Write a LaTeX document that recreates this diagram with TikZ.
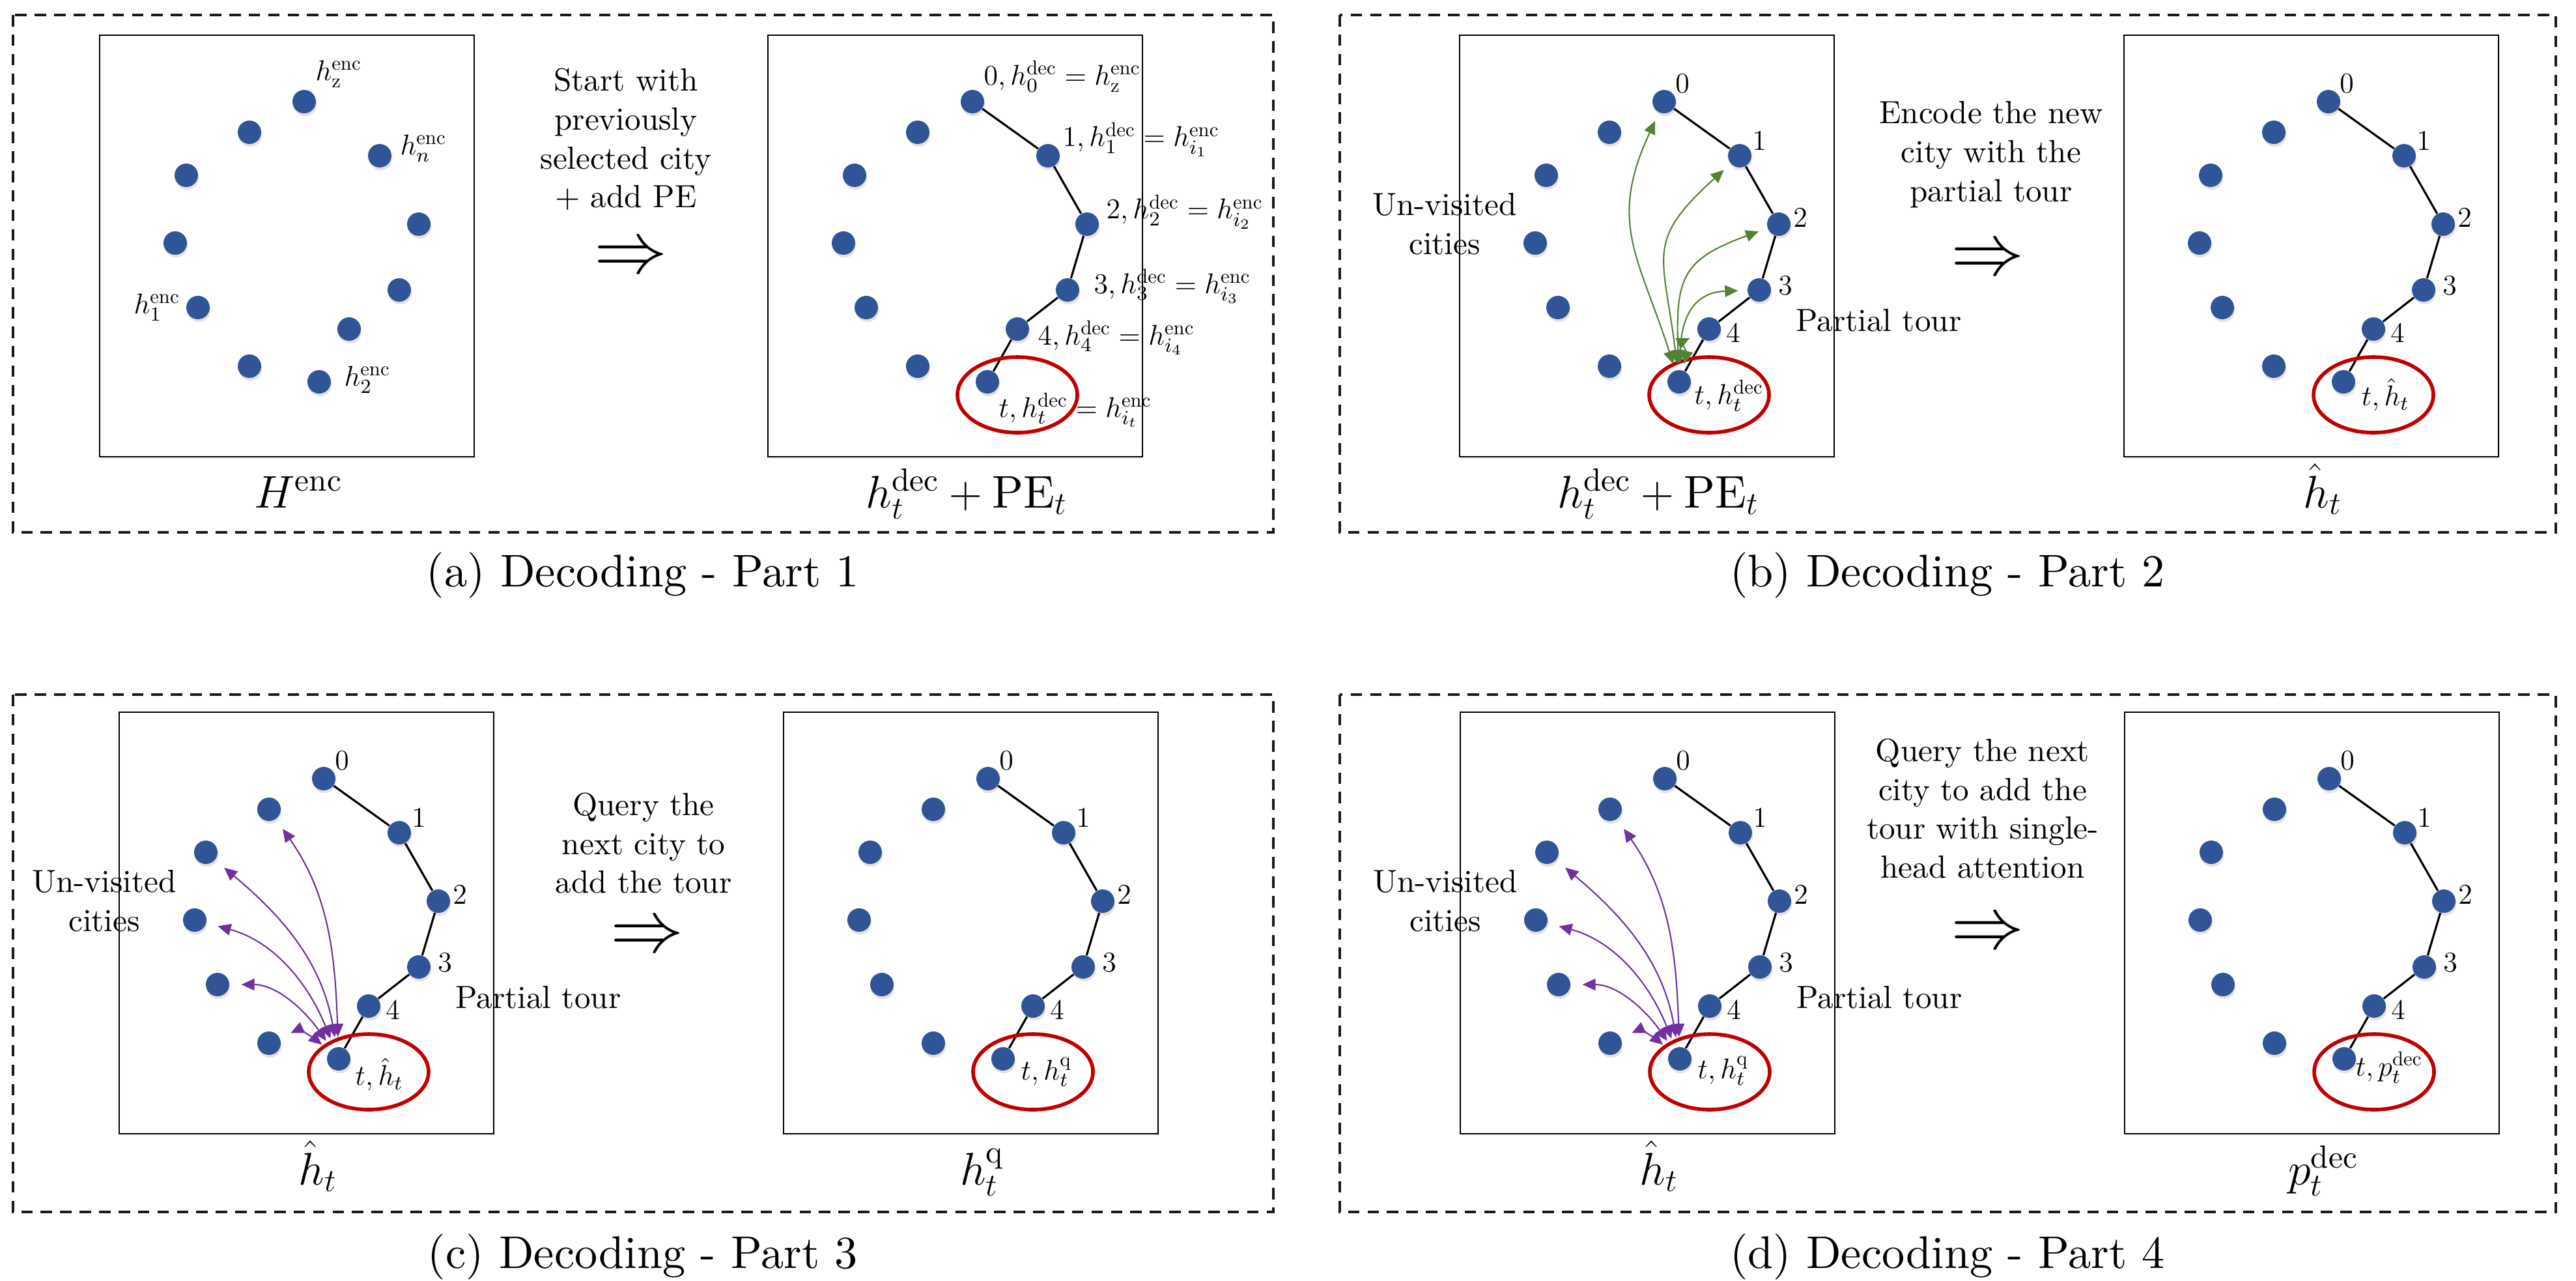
\RequirePackage{fix-cm}
\documentclass[tikz,border=0pt]{standalone}
\usepackage{amsmath}
\usepackage{fontspec}
\setmainfont{lmroman10-regular.otf}
\usepackage{tikz}
\usetikzlibrary{arrows.meta,shadows}
\definecolor{cityblue}{RGB}{47,85,151}
\definecolor{ringred}{RGB}{192,0,0}
\definecolor{attgreen}{RGB}{84,130,53}
\definecolor{attpurple}{RGB}{112,48,160}
\tikzstyle{frame} = [black!90, line width=0.9pt, dash pattern=on 5pt off 3.5pt]
\tikzstyle{citybox} = [draw=black, line width=0.8pt, fill=white, drop shadow={shadow xshift=0.5pt, shadow yshift=-0.8pt, opacity=0.12}]
\tikzstyle{city} = [circle, fill=cityblue, inner sep=0pt, minimum size=0.36cm, drop shadow={shadow xshift=0.4pt, shadow yshift=-1.2pt, opacity=0.22}]
\tikzstyle{tour} = [line width=0.9pt]
\tikzstyle{ring} = [ringred, line width=1.6pt]
\tikzstyle{greenatt} = [attgreen, line width=0.6pt, {Triangle[length=2mm,width=1.8mm]}-{Triangle[length=2mm,width=1.8mm]}, shorten <=1mm, shorten >=1.4mm]
\tikzstyle{purpleatt} = [attpurple, line width=0.6pt, {Triangle[length=2mm,width=1.8mm]}-{Triangle[length=2mm,width=1.8mm]}, shorten <=1.5mm, shorten >=1.8mm]
\tikzstyle{idx} = [font=\fontsize{12.5}{15}\selectfont, inner sep=0pt]
\tikzstyle{boxlabel} = [font=\fontsize{20}{24}\selectfont, anchor=base]
\tikzstyle{desc} = [align=center, font=\fontsize{14}{17}\selectfont]
\tikzstyle{imply} = [font=\fontsize{32}{38}\selectfont]
\tikzstyle{subcap} = [font=\fontsize{20}{24}\selectfont]

% the same eleven cities in every box
\newcommand{\placecities}[1]{%
  \filldraw[citybox] (0,0) rectangle (5.75,-6.47);
  \node[city] (#1-0) at (3.14,-1.02) {};
  \node[city] (#1-b) at (2.30,-1.49) {};
  \node[city] (#1-1) at (4.30,-1.85) {};
  \node[city] (#1-d) at (1.33,-2.15) {};
  \node[city] (#1-2) at (4.90,-2.90) {};
  \node[city] (#1-f) at (1.16,-3.19) {};
  \node[city] (#1-3) at (4.60,-3.91) {};
  \node[city] (#1-h) at (1.51,-4.18) {};
  \node[city] (#1-4) at (3.83,-4.51) {};
  \node[city] (#1-j) at (2.30,-5.08) {};
  \node[city] (#1-t) at (3.37,-5.32) {};
}
\newcommand{\drawtour}[1]{%
  \draw[tour] (#1-0) -- (#1-1) -- (#1-2) -- (#1-3) -- (#1-4) -- (#1-t);
  \draw[ring] ([shift={(0.46,-0.20)}]#1-t) ellipse (0.92 and 0.58);
}
\newcommand{\tourdigits}[1]{%
  \node[idx] (#1-n0) at ([shift={(0.28,0.28)}]#1-0) {$0$};
  \node[idx] (#1-n1) at ([shift={(0.30,0.23)}]#1-1) {$1$};
  \node[idx] (#1-n2) at ([shift={(0.33,0.10)}]#1-2) {$2$};
  \node[idx] (#1-n3) at ([shift={(0.40,0.07)}]#1-3) {$3$};
  \node[idx] (#1-n4) at ([shift={(0.37,-0.06)}]#1-4) {$4$};
}
\newcommand{\sidetexts}[1]{%
  \node[desc] (#1-unv) at (-0.23,-2.90) {Un-visited\\cities};
  \node[desc, anchor=west] (#1-part) at (5.04,-4.38) {Partial tour};
}
\newcommand{\queryarrows}[1]{%
  \draw[purpleatt] (#1-t) to[out=92,in=-55] (#1-b);
  \draw[purpleatt] (#1-t) to[out=100,in=-40] (#1-d);
  \draw[purpleatt] (#1-t) to[out=112,in=-15] (#1-f);
  \draw[purpleatt] (#1-t) to[out=125,in=0] (#1-h);
  \draw[purpleatt] (#1-t) to[out=140,in=25, shorten >=1.2mm] (#1-j);
}

\begin{document}
\begin{tikzpicture}
\useasboundingbox (0,0) rectangle (39.55,-19.65);

% (a) decoding part 1
\draw[frame] (0.20,-0.23) rectangle (19.55,-8.17);
\begin{scope}[shift={(1.53,-0.54)}]
  \placecities{a1}
  \node[idx] (a1-lz) at ([shift={(0.53,0.42)}]a1-0) {$h^{\mathrm{enc}}_{\mathrm{z}}$};
  \node[idx] (a1-ln) at ([shift={(0.67,0.11)}]a1-1) {$h^{\mathrm{enc}}_{n}$};
  \node[idx] (a1-l1) at ([shift={(-0.63,0)}]a1-h) {$h^{\mathrm{enc}}_{1}$};
  \node[idx] (a1-l2) at ([shift={(0.74,0.03)}]a1-t) {$h^{\mathrm{enc}}_{2}$};
  \node[boxlabel] (a1-name) at (3.05,-7.25) {$H^{\mathrm{enc}}$};
\end{scope}
\node[desc] (a-text) at (9.61,-2.14) {Start with\\previously\\selected city\\+ add PE};
\node[imply] (a-imp) at (9.69,-3.98) {$\Rightarrow$};
\begin{scope}[shift={(11.79,-0.54)}]
  \placecities{a2}
  \drawtour{a2}
  \node[idx, anchor=west] (a2-n0) at ([shift={(0.17,0.39)}]a2-0) {$0, h^{\mathrm{dec}}_0 = h^{\mathrm{enc}}_{\mathrm{z}}$};
  \node[idx, anchor=west] (a2-n1) at ([shift={(0.22,0.25)}]a2-1) {$1, h^{\mathrm{dec}}_1 = h^{\mathrm{enc}}_{i_1}$};
  \node[idx, anchor=west] (a2-n2) at ([shift={(0.29,0.19)}]a2-2) {$2, h^{\mathrm{dec}}_2 = h^{\mathrm{enc}}_{i_2}$};
  \node[idx, anchor=west] (a2-n3) at ([shift={(0.40,0.06)}]a2-3) {$3, h^{\mathrm{dec}}_3 = h^{\mathrm{enc}}_{i_3}$};
  \node[idx, anchor=west] (a2-n4) at ([shift={(0.31,-0.13)}]a2-4) {$4, h^{\mathrm{dec}}_4 = h^{\mathrm{enc}}_{i_4}$};
  \node[idx, anchor=west] (a2-nt) at ([shift={(0.17,-0.43)}]a2-t) {$t, h^{\mathrm{dec}}_t = h^{\mathrm{enc}}_{i_t}$};
  \node[boxlabel] (a2-name) at (3.05,-7.25) {$h^{\mathrm{dec}}_t + \mathrm{PE}_t$};
\end{scope}
\node[subcap] (a-cap) at (9.87,-8.83) {(a) Decoding - Part 1};

% (b) decoding part 2
\draw[frame] (20.57,-0.23) rectangle (39.24,-8.17);
\begin{scope}[shift={(22.41,-0.54)}]
  \placecities{b1}
  \drawtour{b1}
  \tourdigits{b1}
  \draw[greenatt] (b1-t) to[out=108,in=245,looseness=1.2] (b1-0);
  \draw[greenatt] (b1-t) to[out=97,in=222,looseness=1.4] (b1-1);
  \draw[greenatt] (b1-t) to[out=92,in=200,looseness=1.4] (b1-2);
  \draw[greenatt] (b1-t) to[out=88,in=182,looseness=1.3] (b1-3);
  \draw[greenatt] (b1-t) to[out=75,in=205, shorten >=0.6mm] (b1-4);
  \node[idx, anchor=west] (b1-nt) at ([shift={(0.23,-0.21)}]b1-t) {$t, h^{\mathrm{dec}}_t$};
  \sidetexts{b1}
  \node[boxlabel] (b1-name) at (3.05,-7.25) {$h^{\mathrm{dec}}_t + \mathrm{PE}_t$};
\end{scope}
\node[desc] (b-text) at (30.57,-2.37) {Encode the new\\city with the\\partial tour};
\node[imply] (b-imp) at (30.52,-4.01) {$\Rightarrow$};
\begin{scope}[shift={(32.61,-0.54)}]
  \placecities{b2}
  \drawtour{b2}
  \tourdigits{b2}
  \node[idx, anchor=west] (b2-nt) at ([shift={(0.27,-0.20)}]b2-t) {$t, \hat{h}_t$};
  \node[boxlabel] (b2-name) at (3.05,-7.25) {$\hat{h}_t$};
\end{scope}
\node[subcap] (b-cap) at (29.90,-8.83) {(b) Decoding - Part 2};

% (c) decoding part 3
\draw[frame] (0.20,-10.66) rectangle (19.55,-18.60);
\begin{scope}[shift={(1.83,-10.93)}]
  \placecities{c1}
  \drawtour{c1}
  \tourdigits{c1}
  \queryarrows{c1}
  \node[idx, anchor=west] (c1-nt) at ([shift={(0.25,-0.24)}]c1-t) {$t, \hat{h}_t$};
  \sidetexts{c1}
  \node[boxlabel] (c1-name) at (3.05,-7.25) {$\hat{h}_t$};
\end{scope}
\node[desc] (c-text) at (9.88,-12.94) {Query the\\next city to\\add the tour};
\node[imply] (c-imp) at (9.94,-14.40) {$\Rightarrow$};
\begin{scope}[shift={(12.03,-10.93)}]
  \placecities{c2}
  \drawtour{c2}
  \tourdigits{c2}
  \node[idx, anchor=west] (c2-nt) at ([shift={(0.27,-0.20)}]c2-t) {$t, h^{\mathrm{q}}_t$};
  \node[boxlabel] (c2-name) at (3.05,-7.25) {$h^{\mathrm{q}}_t$};
\end{scope}
\node[subcap] (c-cap) at (9.87,-19.29) {(c) Decoding - Part 3};

% (d) decoding part 4
\draw[frame] (20.57,-10.66) rectangle (39.24,-18.60);
\begin{scope}[shift={(22.42,-10.93)}]
  \placecities{d1}
  \drawtour{d1}
  \tourdigits{d1}
  \queryarrows{d1}
  \node[idx, anchor=west] (d1-nt) at ([shift={(0.27,-0.18)}]d1-t) {$t, h^{\mathrm{q}}_t$};
  \sidetexts{d1}
  \node[boxlabel] (d1-name) at (3.05,-7.25) {$\hat{h}_t$};
\end{scope}
\node[desc] (d-text) at (30.44,-12.41) {Query the next\\city to add the\\tour with single-\\head attention};
\node[imply] (d-imp) at (30.52,-14.35) {$\Rightarrow$};
\begin{scope}[shift={(32.62,-10.93)}]
  \placecities{d2}
  \drawtour{d2}
  \tourdigits{d2}
  \node[idx, anchor=west] (d2-nt) at ([shift={(0.17,-0.13)}]d2-t) {$t, p^{\mathrm{dec}}_t$};
  \node[boxlabel] (d2-name) at (3.05,-7.25) {$p^{\mathrm{dec}}_t$};
\end{scope}
\node[subcap] (d-cap) at (29.90,-19.29) {(d) Decoding - Part 4};
\end{tikzpicture}
\end{document}
